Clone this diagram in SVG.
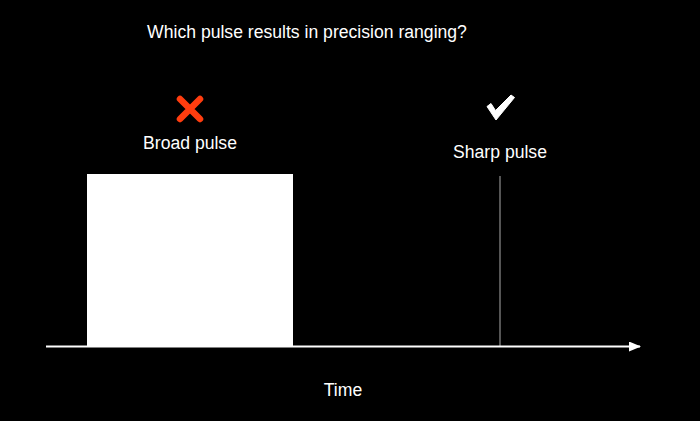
<svg xmlns="http://www.w3.org/2000/svg" width="700" height="421" viewBox="0 0 700 421">
<style>
text{font-family:"Liberation Sans",Arial,sans-serif;fill:#fff;}
.t{font-size:17.6px;}
</style>
<defs>
<marker id="ah" markerWidth="12" markerHeight="10" refX="11" refY="5" orient="auto" markerUnits="userSpaceOnUse">
<path d="M0,0 L12,5 L0,10 Z" fill="#fff"/>
</marker>
</defs>
<rect width="700" height="421" fill="#000"/>
<text class="t" x="307" y="38" text-anchor="middle">Which pulse results in precision ranging?</text>
<g id="broad">
<rect x="87" y="174" width="206" height="172" fill="#fff"/>
<path d="M180,99 L200,119 M200,99 L180,119" stroke="#FF3D0F" stroke-width="6.5" stroke-linecap="round"/>
<text class="t" x="190" y="149" text-anchor="middle">Broad pulse</text>
</g>
<g id="sharp">
<line x1="500" y1="176" x2="500" y2="346" stroke="#aaa" stroke-width="1"/>
<path d="M487,106.5 L491,103.5 L495.5,110.5 L511,95 L514.5,97.5 L496,120 Z" fill="#fff" stroke="#fff" stroke-width="1" stroke-linejoin="round"/>
<text class="t" x="500" y="158" text-anchor="middle">Sharp pulse</text>
</g>
<g id="connectors">
<line x1="46" y1="346.5" x2="640" y2="346.5" stroke="#fff" stroke-width="2" marker-end="url(#ah)"/>
</g>
<text class="t" x="343" y="396" text-anchor="middle">Time</text>
</svg>
